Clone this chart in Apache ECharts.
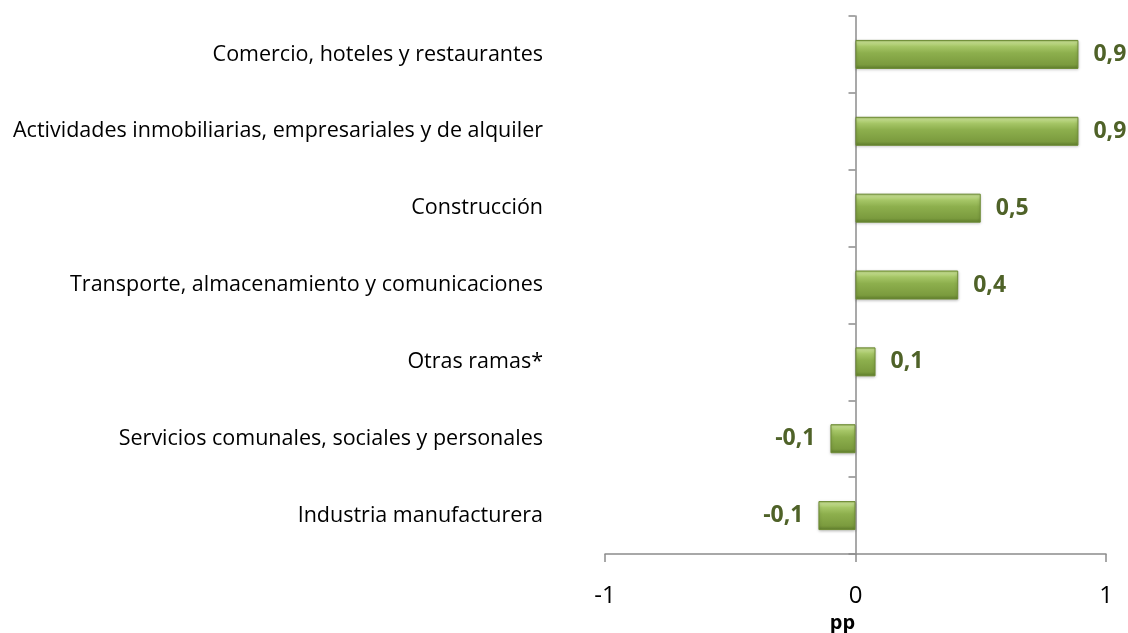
<!DOCTYPE html>
<html>
<head>
<meta charset="utf-8">
<script src="https://cdn.jsdelivr.net/npm/echarts@6/dist/echarts.min.js"></script>
<style>
  html, body { margin: 0; padding: 0; background: #fff; }
  #chart { width: 1128px; height: 633px; }
</style>
</head>
<body>
<div id="chart"></div>
<script>
// categorias de arriba hacia abajo
const categories = [
  'Comercio, hoteles y restaurantes',
  'Actividades inmobiliarias, empresariales y de alquiler',
  'Construcción',
  'Transporte, almacenamiento y comunicaciones',
  'Otras ramas*',
  'Servicios comunales, sociales y personales',
  'Industria manufacturera'
];
const values = [0.89, 0.89, 0.50, 0.41, 0.08, -0.10, -0.148];
const xTicks = [-1, 0, 1];

const chart = echarts.init(document.getElementById('chart'));

const barColor = {
  type: 'linear', x: 0, y: 0, x2: 0, y2: 1,
  colorStops: [
    { offset: 0, color: '#9DBE5C' },
    { offset: 0.08, color: '#C6E08F' },
    { offset: 0.22, color: '#A6C667' },
    { offset: 0.45, color: '#8DAF4D' },
    { offset: 0.85, color: '#7B9B3E' },
    { offset: 1, color: '#5F7E2C' }
  ]
};

const option = {
  animation: false,
  grid: { left: 605, right: 22, top: 16, bottom: 79, outerBoundsMode: 'none' },
  xAxis: {
    type: 'value',
    min: -1,
    max: 1,
    interval: 1,
    splitLine: { show: false },
    axisLine: { show: true, lineStyle: { color: '#8C8C8C', width: 1.5 } },
    axisTick: { show: true, length: 8, lineStyle: { color: '#8C8C8C', width: 1.5 } },
    axisLabel: {
      margin: 30,
      fontFamily: 'Open Sans',
      fontSize: 24,
      color: '#000',
      formatter: v => xTicks.includes(v) ? String(v) : ''
    },
    name: 'pp',
    nameLocation: 'middle',
    nameGap: 58,
    nameTextStyle: {
      fontFamily: 'Open Sans',
      fontWeight: 'bold',
      fontSize: 20,
      color: '#000',
      padding: [0, 26, 0, 0]
    }
  },
  yAxis: [
    {
      type: 'category',
      data: categories,
      inverse: true,
      axisLine: { show: false, onZero: false },
      axisTick: { show: false },
      axisLabel: {
        margin: 62,
        fontFamily: 'Open Sans',
        fontSize: 21.5,
        color: '#000'
      }
    },
    {
      type: 'category',
      data: categories,
      inverse: true,
      position: 'left',
      axisLine: { show: true, onZero: true, lineStyle: { color: '#8C8C8C', width: 1.5 } },
      axisTick: { show: true, length: 7, lineStyle: { color: '#8C8C8C', width: 1.5 } },
      axisLabel: { show: false }
    }
  ],
  series: [{
    type: 'bar',
    yAxisIndex: 0,
    barWidth: 29,
    data: values.map(v => ({
      value: v,
      label: { position: v < 0 ? 'left' : 'right' }
    })),
    itemStyle: {
      color: barColor,
      borderColor: '#6E8C35',
      borderWidth: 1,
      shadowColor: 'rgba(0,0,0,0.25)',
      shadowBlur: 3,
      shadowOffsetY: 1
    },
    label: {
      show: true,
      distance: 15,
      fontFamily: 'Open Sans',
      fontWeight: 'bold',
      fontSize: 23,
      color: '#4F6228',
      formatter: p => (Math.round(p.value * 10) / 10).toFixed(1).replace('.', ',')
    }
  }]
};

chart.setOption(option);
</script>
</body>
</html>
